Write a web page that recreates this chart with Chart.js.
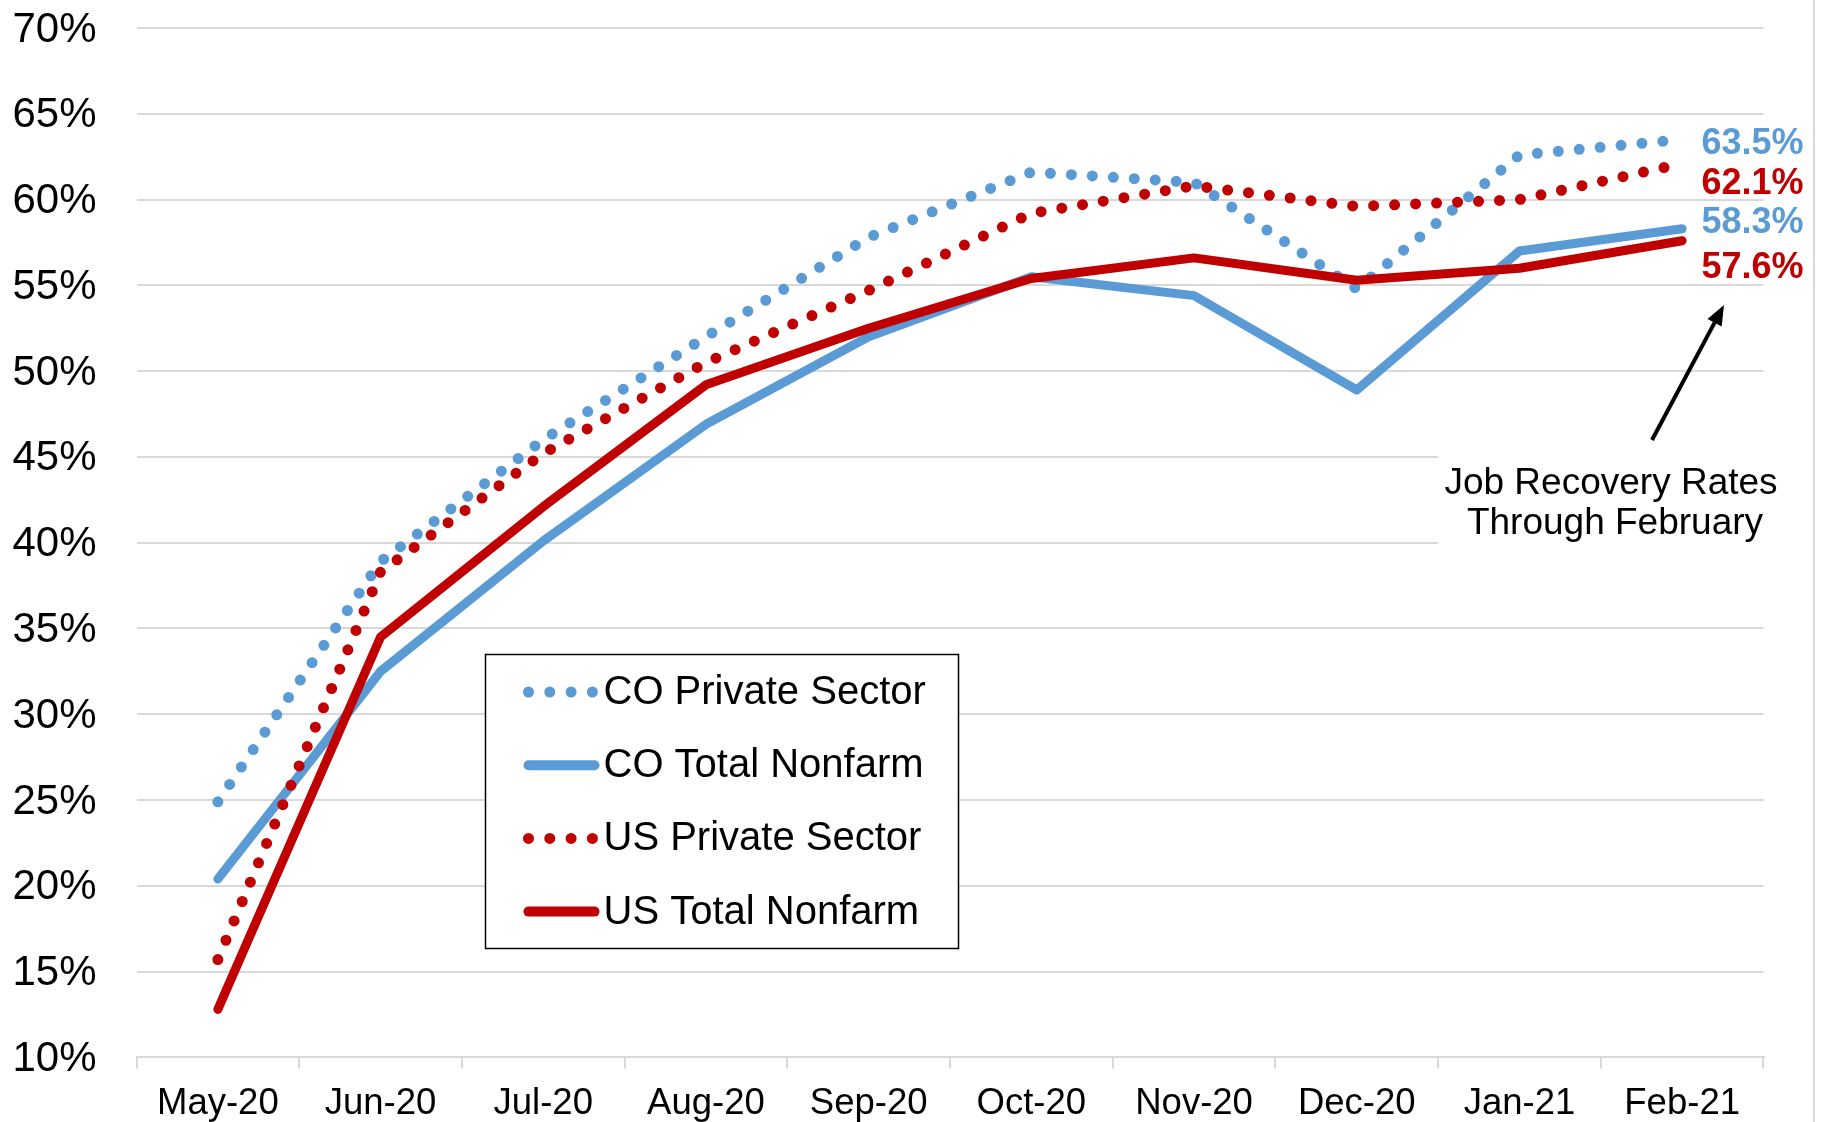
<!DOCTYPE html>
<html>
<head>
<meta charset="utf-8">
<script src="https://cdn.jsdelivr.net/npm/chart.js@4.4.1/dist/chart.umd.min.js"></script>
<style>
    html, body { margin: 0; padding: 0; background: #fff; }
    #wrap { width: 1830px; height: 1122px; position: relative; }
</style>
</head>
<body>
<div id="wrap"><canvas id="chart"></canvas></div>
<script>
// Job recovery rates, May-20 .. Feb-21 (% of jobs lost that have come back)
const months = ['May-20', 'Jun-20', 'Jul-20', 'Aug-20', 'Sep-20', 'Oct-20', 'Nov-20', 'Dec-20', 'Jan-21', 'Feb-21'];
const coPrivate = [24.9, 38.9, 46.0, 52.0, 57.8, 61.6, 61.0, 54.8, 62.6, 63.5];
const coTotal   = [20.4, 32.5, 40.1, 46.9, 52.0, 55.5, 54.4, 48.9, 57.0, 58.3];
const usPrivate = [15.7, 38.3, 45.2, 50.5, 54.7, 59.2, 60.8, 59.6, 60.0, 62.1];
const usTotal   = [12.8, 34.5, 42.1, 49.2, 52.5, 55.4, 56.6, 55.3, 56.0, 57.6];
const seriesNames = ['CO Private Sector', 'CO Total Nonfarm', 'US Private Sector', 'US Total Nonfarm'];
const noteLines = ['Job Recovery Rates', 'Through February'];

const BLUE = '#5B9BD5';
const RED = '#C00000';
const GRID = '#D9D9D9';
const FONT = '"Liberation Sans", Arial, sans-serif';

function dotted(label, data, color, order) {
    return {
        label: label, data: data, borderColor: color, backgroundColor: color,
        borderWidth: 11, borderDash: [0, 21], borderCapStyle: 'round', borderJoinStyle: 'round',
        pointRadius: 0, tension: 0, order: order
    };
}

function solid(label, data, color, order) {
    return {
        label: label, data: data, borderColor: color, backgroundColor: color,
        borderWidth: 9, borderCapStyle: 'round', borderJoinStyle: 'round',
        pointRadius: 0, tension: 0, order: order
    };
}

// legend box, end-of-line values, note with arrow and the outer border
const extras = {
    id: 'extras',
    afterDraw(chart) {
        const ctx = chart.ctx;
        const area = chart.chartArea;
        const sets = chart.data.datasets;
        ctx.save();

        // end values
        const offsets = [5, -6, 21, 27];
        ctx.font = 'bold 36px ' + FONT;
        ctx.textAlign = 'left';
        ctx.textBaseline = 'middle';
        sets.forEach(function(ds, i) {
            const pts = chart.getDatasetMeta(i).data;
            const last = pts[pts.length - 1];
            ctx.fillStyle = ds.borderColor;
            ctx.fillText(ds.data[ds.data.length - 1].toFixed(1) + '%', area.right - 62, last.y + offsets[i]);
        });

        // note box
        ctx.fillStyle = '#fff';
        ctx.fillRect(1438, 446, 340, 112);
        ctx.fillStyle = '#000';
        ctx.font = '37px ' + FONT;
        ctx.textAlign = 'center';
        ctx.fillText(noteLines[0], 1611, 484);
        ctx.fillText(noteLines[1], 1615, 524);

        // arrow
        const x0 = 1652, y0 = 440, x1 = 1724, y1 = 305;
        const ang = Math.atan2(y1 - y0, x1 - x0);
        const head = 20, half = 8;
        const bx = x1 - head * Math.cos(ang), by = y1 - head * Math.sin(ang);
        ctx.strokeStyle = '#000';
        ctx.lineWidth = 4;
        ctx.beginPath();
        ctx.moveTo(x0, y0);
        ctx.lineTo(bx, by);
        ctx.stroke();
        ctx.beginPath();
        ctx.moveTo(x1, y1);
        ctx.lineTo(bx + half * Math.sin(ang), by - half * Math.cos(ang));
        ctx.lineTo(bx - half * Math.sin(ang), by + half * Math.cos(ang));
        ctx.closePath();
        ctx.fill();

        // legend
        const lx = 485.5, ly = 654.5, lw = 473, lh = 294;
        ctx.fillStyle = '#fff';
        ctx.fillRect(lx, ly, lw, lh);
        ctx.strokeStyle = '#000';
        ctx.lineWidth = 1.5;
        ctx.strokeRect(lx, ly, lw, lh);
        ctx.textAlign = 'left';
        ctx.font = '40px ' + FONT;
        sets.forEach(function(ds, i) {
            const ry = ly + 37.5 + i * 73.2;
            ctx.strokeStyle = ds.borderColor;
            ctx.lineWidth = ds.borderDash ? 11 : 10;
            ctx.lineCap = 'round';
            ctx.setLineDash(ds.borderDash ? [0, 21.3] : []);
            ctx.beginPath();
            ctx.moveTo(lx + 43, ry);
            ctx.lineTo(lx + (ds.borderDash ? 107 : 109), ry);
            ctx.stroke();
            ctx.setLineDash([]);
            ctx.fillStyle = '#000';
            ctx.fillText(ds.label, lx + 118, ry + 1);
        });

        // chart area border on the right
        ctx.strokeStyle = GRID;
        ctx.lineWidth = 2;
        ctx.beginPath();
        ctx.moveTo(1814, 0);
        ctx.lineTo(1814, 1122);
        ctx.stroke();
        ctx.restore();
    }
};

new Chart(document.getElementById('chart'), {
    type: 'line',
    data: {
        labels: months,
        datasets: [
            dotted(seriesNames[0], coPrivate, BLUE, 4),
            solid(seriesNames[1], coTotal, BLUE, 3),
            dotted(seriesNames[2], usPrivate, RED, 2),
            solid(seriesNames[3], usTotal, RED, 1)
        ]
    },
    options: {
        responsive: true,
        maintainAspectRatio: false,
        animation: false,
        layout: { padding: { left: 0, right: 66.5, top: 28, bottom: 0 } },
        plugins: {
            legend: { display: false },
            tooltip: { enabled: false }
        },
        scales: {
            x: {
                offset: true,
                grid: {
                    offset: true,
                    drawOnChartArea: false,
                    drawTicks: true,
                    tickLength: 11,
                    color: GRID,
                    lineWidth: 2
                },
                border: { display: true, color: GRID, width: 2 },
                ticks: {
                    color: '#000',
                    font: { family: FONT, size: 36.5 },
                    padding: 14,
                    maxRotation: 0,
                    autoSkip: false
                },
                afterFit: function(scale) {
                    scale.height = 64.6;
                    scale.paddingLeft = 0;
                    scale.paddingRight = 0;
                }
            },
            y: {
                min: 10,
                max: 70,
                grid: {
                    color: GRID,
                    lineWidth: 2,
                    drawTicks: false
                },
                border: { display: false },
                ticks: {
                    stepSize: 5,
                    color: '#000',
                    font: { family: FONT, size: 42 },
                    padding: 40,
                    labelOffset: 2,
                    callback: function(v) { return v + '%'; }
                },
                afterFit: function(scale) {
                    scale.width = 136.5;
                    scale.paddingTop = 0;
                    scale.paddingBottom = 0;
                }
            }
        }
    },
    plugins: [extras]
});
</script>
</body>
</html>
